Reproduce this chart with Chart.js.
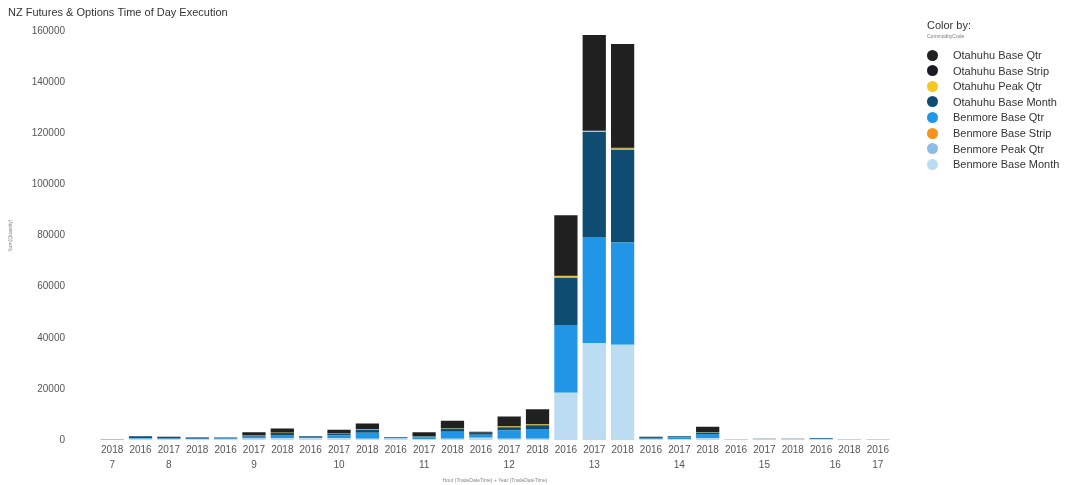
<!DOCTYPE html>
<html>
<head>
<meta charset="utf-8">
<script src="https://cdn.jsdelivr.net/npm/chart.js@4.4.1/dist/chart.umd.min.js"></script>
<style>
  body { margin: 0; background: #fff; font-family: "Liberation Sans", Arial, sans-serif; }
  #wrap { position: relative; width: 1070px; height: 485px; }
  #chart { position: absolute; left: 0; top: 0; }
  #legend { position: absolute; left: 0; top: 0; color: #333; }
  .lg-title { position: absolute; left: 927px; top: 18px; font-size: 11px; line-height: 14px; white-space: nowrap; }
  .lg-sub { position: absolute; left: 927px; top: 33px; font-size: 5px; line-height: 6px; color: #777; white-space: nowrap; }
  .lg-item { position: absolute; left: 927px; height: 14px; font-size: 11px; line-height: 14px; white-space: nowrap; }
  .lg-dot { position: absolute; left: 0; top: 1.5px; width: 11px; height: 11px; border-radius: 50%; }
  .lg-text { position: absolute; left: 26px; top: 0; }
</style>
</head>
<body>
<div id="wrap">
  <canvas id="chart" width="1070" height="485"></canvas>
  <div id="legend"></div>
</div>
<script>
// Axis categories : hour of day + year
const hours = ['7','8','8','8','9','9','9','10','10','10','11','11','11','12','12','12','13','13','13','14','14','14','15','15','15','16','16','17'];
const years = ['2018','2016','2017','2018','2016','2017','2018','2016','2017','2018','2016','2017','2018','2016','2017','2018','2016','2017','2018','2016','2017','2018','2016','2017','2018','2016','2018','2016'];
const yTicks = [0, 20000, 40000, 60000, 80000, 100000, 120000, 140000, 160000];

// Series (stack order, bottom to top)
const benmoreBaseMonth = [100,500,400,300,400,600,800,800,700,500,600,400,500,900,500,500,18500,38000,37300,300,300,800,200,300,300,300,200,200];
const benmorePeakQtr   = [0,0,0,0,0,0,0,0,0,0,0,0,0,0,0,0,0,0,0,0,0,0,0,0,0,0,0,0];
const benmoreBaseStrip = [0,0,0,0,0,0,0,0,0,0,0,0,0,0,0,0,0,0,0,0,0,0,0,0,0,0,0,0];
const benmoreBaseQtr   = [100,300,200,200,200,700,1200,400,1200,2300,300,700,2700,1200,3200,3800,26500,41500,40000,300,800,1500,0,0,0,200,0,0];
const otahuhuBaseMonth = [100,700,600,300,400,400,700,300,500,1200,300,300,1300,700,1300,1500,18500,41000,36300,300,400,600,100,200,200,300,100,100];
const otahuhuPeakQtr   = [0,0,0,0,0,100,100,0,100,200,0,100,200,0,300,300,600,300,500,0,0,200,0,0,0,0,0,0];
const otahuhuBaseStrip = [0,0,0,0,0,0,0,0,0,0,0,0,0,0,0,0,400,300,500,0,0,0,0,0,0,0,0,0];
const otahuhuBaseQtr   = [0,0,100,200,0,1200,1700,0,1500,2300,0,1500,2800,400,3900,5900,23500,37400,40400,400,0,2100,0,0,0,0,0,0];

const seriesNames = ['Benmore Base Month','Benmore Peak Qtr','Benmore Base Strip','Benmore Base Qtr','Otahuhu Base Month','Otahuhu Peak Qtr','Otahuhu Base Strip','Otahuhu Base Qtr'];
const seriesData = [benmoreBaseMonth, benmorePeakQtr, benmoreBaseStrip, benmoreBaseQtr, otahuhuBaseMonth, otahuhuPeakQtr, otahuhuBaseStrip, otahuhuBaseQtr];
const seriesColors = ['#bcdcf2','#8fbbe8','#f7921e','#2196e6','#0f4c72','#f4c81c','#1b1b27','#202020'];

// Legend (top item = top of the stack)
const legend = document.getElementById('legend');
legend.innerHTML = '<div class="lg-title">Color by:</div><div class="lg-sub">CommodityCode</div>';
seriesNames.slice().reverse().forEach((name, i) => {
  const color = seriesColors[seriesNames.length - 1 - i];
  const item = document.createElement('div');
  item.className = 'lg-item';
  item.style.top = (48 + i * 15.6) + 'px';
  item.innerHTML = `<span class="lg-dot" style="background:${color}"></span><span class="lg-text">${name}</span>`;
  legend.appendChild(item);
});

// Hour labels under the years
const groupLabels = {
  id: 'groupLabels',
  afterDraw(chart) {
    const x = chart.scales.x;
    const ctx = chart.ctx;
    ctx.save();
    ctx.font = '10px "Liberation Sans", Arial, sans-serif';
    ctx.fillStyle = '#555';
    ctx.textAlign = 'center';
    ctx.textBaseline = 'middle';
    [...new Set(hours)].forEach(h => {
      const idx = hours.map((v, i) => v === h ? i : -1).filter(i => i >= 0);
      const px = idx.reduce((s, i) => s + x.getPixelForValue(i), 0) / idx.length;
      ctx.fillText(h, px, 465);
    });
    ctx.restore();
  }
};

new Chart(document.getElementById('chart'), {
  type: 'bar',
  data: {
    labels: years,
    datasets: seriesNames.map((name, i) => ({
      label: name,
      data: seriesData[i],
      backgroundColor: seriesColors[i],
      borderWidth: 0,
      barPercentage: 0.82,
      categoryPercentage: 1
    }))
  },
  options: {
    responsive: false,
    animation: false,
    layout: { padding: { left: 8, right: 178, top: 0, bottom: 0 } },
    plugins: {
      legend: { display: false },
      tooltip: { enabled: false },
      title: {
        display: true,
        text: 'NZ Futures & Options Time of Day Execution',
        align: 'start',
        color: '#333',
        font: { family: '"Liberation Sans", Arial, sans-serif', size: 11, weight: 'normal' },
        padding: { top: 6, bottom: 12 }
      }
    },
    scales: {
      x: {
        stacked: true,
        grid: { display: false, drawTicks: false },
        border: { display: false },
        ticks: { color: '#555', padding: 4, maxRotation: 0, autoSkip: false,
                 font: { family: '"Liberation Sans", Arial, sans-serif', size: 10 } },
        title: { display: true, text: 'Hour (TradeDateTime) + Year (TradeDateTime)', color: '#888',
                 font: { size: 5 }, padding: { top: 0, bottom: 1 } },
        afterFit(s) { s.height = 45; }
      },
      y: {
        stacked: true,
        min: 0,
        max: 160000,
        grid: { display: false, drawTicks: false },
        border: { display: false },
        afterBuildTicks(s) { s.ticks = yTicks.map(v => ({ value: v })); },
        ticks: { color: '#555', padding: 33, callback: v => String(v),
                 font: { family: '"Liberation Sans", Arial, sans-serif', size: 10 } },
        title: { display: true, text: 'Sum(Quantity)', color: '#888',
                 font: { size: 5 }, padding: { top: 0, bottom: 0 } },
        afterFit(s) { s.width = 90; s.paddingTop = 6; s.paddingBottom = 6; }
      }
    }
  },
  plugins: [groupLabels]
});
</script>
</body>
</html>
